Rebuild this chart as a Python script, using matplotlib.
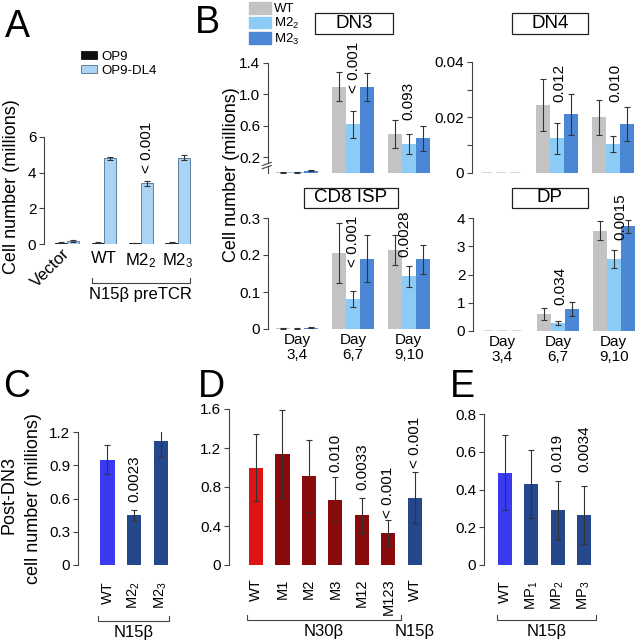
import matplotlib
matplotlib.use("Agg")
import matplotlib.pyplot as plt
import matplotlib.patches as mpatches
import matplotlib.transforms as mtransforms
import numpy as np

plt.rcParams['font.family'] = ['Liberation Sans', 'DejaVu Sans']
plt.rcParams['mathtext.default'] = 'regular'
plt.rcParams['font.size'] = 11

W, H = 641, 643

#=========================== data ===========================#
# Panel A
a_groups = ['Vector', 'WT', 'M2$_2$', 'M2$_3$']
a_op9 = [0.08, 0.07, 0.05, 0.07]
a_op9_err = [0.02, 0.02, 0.02, 0.02]
a_dl4 = [0.15, 4.80, 3.40, 4.85]
a_dl4_err = [0.05, 0.08, 0.15, 0.15]

# Panel B
days = ['Day\n3,4', 'Day\n6,7', 'Day\n9,10']
b_series = ['WT', 'M2$_2$', 'M2$_3$']

dn3_wt, dn3_wt_err = [0.01, 1.10, 0.50], [0.004, 0.19, 0.18]
dn3_m22, dn3_m22_err = [0.01, 0.62, 0.37], [0.004, 0.17, 0.13]
dn3_m23, dn3_m23_err = [0.03, 1.09, 0.44], [0.01, 0.18, 0.16]

dn4_wt, dn4_wt_err = [0, 0.0245, 0.0200], [0, 0.0095, 0.0062]
dn4_m22, dn4_m22_err = [0, 0.0125, 0.0105], [0, 0.0055, 0.0028]
dn4_m23, dn4_m23_err = [0, 0.0211, 0.0176], [0, 0.0075, 0.0061]

cd8_wt, cd8_wt_err = [0.002, 0.205, 0.213], [0.001, 0.082, 0.041]
cd8_m22, cd8_m22_err = [0.001, 0.082, 0.142], [0.0005, 0.022, 0.028]
cd8_m23, cd8_m23_err = [0.004, 0.190, 0.188], [0.002, 0.063, 0.039]

dp_wt, dp_wt_err = [0, 0.60, 3.55], [0, 0.20, 0.33]
dp_m22, dp_m22_err = [0, 0.28, 2.55], [0, 0.08, 0.33]
dp_m23, dp_m23_err = [0, 0.78, 3.70], [0, 0.25, 0.22]

# Panel C
c_labels = ['WT', 'M2$_2$', 'M2$_3$']
c_vals = [0.95, 0.45, 1.12]
c_err = [0.13, 0.05, 0.15]

# Panel D
d_labels = ['WT', 'M1', 'M2', 'M3', 'M12', 'M123', 'WT']
d_vals = [1.00, 1.14, 0.91, 0.67, 0.51, 0.33, 0.69]
d_err = [0.34, 0.45, 0.37, 0.23, 0.18, 0.13, 0.26]

# Panel E
e_labels = ['WT', 'MP$_1$', 'MP$_2$', 'MP$_3$']
e_vals = [0.49, 0.43, 0.29, 0.265]
e_err = [0.20, 0.18, 0.155, 0.155]

#=========================== colours ===========================#
c_op9 = '#111111'
c_dl4 = '#aad4f6'
c_wt_grey = '#c3c3c3'
c_m22 = '#8ccbf6'
c_m23 = '#4c87d6'
c_blue = '#3a3af0'
c_navy = '#25478c'
c_red = '#de1414'
c_dred = '#880a0a'
err_kw = dict(ecolor='#333333', elinewidth=0.8, capsize=2.5, capthick=0.8)

fig = plt.figure(figsize=(W / 100, H / 100), dpi=100)


def add_ax(l, t, r, b):
    ax = fig.add_axes([l / W, 1 - b / H, (r - l) / W, (b - t) / H])
    for s in ['top', 'right', 'bottom']:
        ax.spines[s].set_visible(False)
    ax.spines['left'].set_color('#444444')
    ax.spines['left'].set_linewidth(0.8)
    ax.tick_params(axis='y', length=3.5, width=0.8, color='#444444', pad=2, labelsize=11)
    ax.tick_params(axis='x', length=0, labelsize=11)
    return ax


def bracket(ax, x0, x1, ypx, text, text_x=None):
    trans = mtransforms.blended_transform_factory(ax.transData, fig.transFigure)
    y = 1 - ypx / H
    ax.plot([x0, x0, x1, x1], [y + 5 / H, y, y, y + 5 / H], transform=trans,
            clip_on=False, color='#444444', lw=0.8)
    tx = (x0 + x1) / 2 if text_x is None else text_x
    ax.text(tx, y - 4 / H, text, transform=trans, ha='center', va='top', fontsize=12)


def pval(ax, x, y, s):
    ax.text(x, y, s, rotation=90, ha='center', va='bottom', fontsize=11)


def titlebox(l, t, r, b, s):
    fig.patches.append(mpatches.Rectangle((l / W, 1 - b / H), (r - l) / W, (b - t) / H,
                                          transform=fig.transFigure, fill=False,
                                          edgecolor='#222222', lw=0.9))
    fig.text((l + r) / 2 / W, 1 - (t + b) / 2 / H, s, ha='center', va='center', fontsize=13.5)


def rot_labels(ax, labels, pad):
    ax.set_xticklabels(labels, rotation=90, fontsize=10.5)
    ax.tick_params(axis='x', pad=pad)


#=========================== A ===========================#
axA = add_ax(44, 137, 192, 244)
x = np.arange(len(a_groups))
w = 0.33
axA.bar(x - w / 2, a_op9, w, yerr=a_op9_err, color=c_op9, edgecolor=c_op9, lw=0.6,
        error_kw=err_kw, label='OP9')
axA.bar(x + w / 2, a_dl4, w, yerr=a_dl4_err, color=c_dl4, edgecolor='#4f6f8c', lw=0.6,
        error_kw=err_kw, label='OP9-DL4')
axA.set_xlim(-0.62, 3.39)
axA.set_ylim(0, 6)
axA.set_yticks([0, 2, 4, 6])
axA.set_xticks(x)
axA.set_xticklabels(a_groups, fontsize=12)
axA.tick_params(axis='x', pad=5)
lab0 = axA.get_xticklabels()[0]
lab0.set_rotation(45)
lab0.set_ha('right')
lab0.set_va('center')
lab0.set_rotation_mode('anchor')
pval(axA, 2 + w / 2, 3.98, '< 0.001')
bracket(axA, 1 - w, 3 + w, 283, 'N15β preTCR')
axA.legend(loc='upper left', bbox_to_anchor=(81 / W, 1 - 51 / H), bbox_transform=fig.transFigure,
           frameon=False, fontsize=9.5, handlelength=1.25, handleheight=0.55,
           labelspacing=0.15, handletextpad=0.3, borderpad=0, borderaxespad=0)
fig.text(12 / W, 1 - 187 / H, 'Cell number (millions)', rotation=90, ha='center', va='center',
         fontsize=13)

#=========================== B ===========================#
bw = 0.25
xb = np.arange(len(days))


def bpanel(box, wt, wte, m2, m2e, m3, m3e, ylim, yticks, yticklabels, show_days):
    ax = add_ax(*box)
    for off, v, e, c in [(-bw, wt, wte, c_wt_grey), (0, m2, m2e, c_m22), (bw, m3, m3e, c_m23)]:
        v = np.array(v, dtype=float)
        e = np.array(e, dtype=float)
        nz = v > 0
        ax.bar(xb[nz] + off, v[nz], bw, yerr=e[nz], color=c, error_kw=err_kw)
        if (~nz).any():
            ax.hlines(v[~nz], xb[~nz] + off - bw * 0.38, xb[~nz] + off + bw * 0.38,
                      color='#333333', lw=1.0)
    ax.set_xlim(-0.52, 2.38)
    ax.set_ylim(*ylim)
    ax.set_yticks(yticks)
    ax.set_yticklabels(yticklabels)
    ax.set_xticks(xb)
    if show_days:
        ax.set_xticklabels(days, linespacing=1.05)
        ax.tick_params(axis='x', pad=3)
    else:
        ax.set_xticklabels([])
    return ax


axDN3 = bpanel((268, 63, 430, 173), dn3_wt, dn3_wt_err, dn3_m22, dn3_m22_err, dn3_m23, dn3_m23_err,
               (0, 1.4), [0.2, 0.6, 1.0, 1.4], ['0.2', '0.6', '1.0', '1.4'], False)
axDN4 = bpanel((472, 62, 634, 173), dn4_wt, dn4_wt_err, dn4_m22, dn4_m22_err, dn4_m23, dn4_m23_err,
               (0, 0.04), [0, 0.01, 0.02, 0.03, 0.04], ['0', '', '0.02', '', '0.04'], False)
axCD8 = bpanel((268, 218, 430, 329), cd8_wt, cd8_wt_err, cd8_m22, cd8_m22_err, cd8_m23, cd8_m23_err,
               (0, 0.3), [0, 0.1, 0.2, 0.3], ['0', '0.1', '0.2', '0.3'], True)
axDP = bpanel((473, 218, 635, 331), dp_wt, dp_wt_err, dp_m22, dp_m22_err, dp_m23, dp_m23_err,
              (0, 4), [0, 1, 2, 3, 4], ['0', '1', '2', '3', '4'], True)

# axis break on DN3
axDN3.spines['left'].set_bounds(0.13, 1.4)
tb = mtransforms.blended_transform_factory(axDN3.transAxes, axDN3.transData)
for yb in (0.115, 0.075):
    axDN3.plot([-0.035, 0.02], [yb - 0.02, yb + 0.02], transform=tb, clip_on=False,
               color='#444444', lw=0.8)
axDN3.plot([0, 0], [0, 0.07], transform=tb, clip_on=False, color='#444444', lw=0.8)

pval(axDN3, 1.02, 1.02, '< 0.001')
pval(axDN3, 2.0, 0.675, '0.093')
pval(axDN4, 1.04, 0.0256, '0.012')
pval(axDN4, 2.05, 0.0256, '0.010')
pval(axCD8, 1.0, 0.168, '< 0.001')
pval(axCD8, 1.92, 0.195, '0.0028')
pval(axDP, 1.05, 0.92, '0.034')
pval(axDP, 2.12, 3.22, '0.0015')

titlebox(315, 13, 393, 34, 'DN3')
titlebox(512, 13, 588, 34, 'DN4')
titlebox(304, 188, 398, 208, 'CD8 ISP')
titlebox(512, 188, 588, 208, 'DP')

handles = [mpatches.Patch(color=c) for c in (c_wt_grey, c_m22, c_m23)]
fig.legend(handles, b_series, loc='upper left', bbox_to_anchor=(249 / W, 1 - 2 / H),
           frameon=False, fontsize=9.5, handlelength=1.65, handleheight=1.0,
           labelspacing=0.05, handletextpad=0.25, borderpad=0, borderaxespad=0)
fig.text(231 / W, 1 - 175 / H, 'Cell number (millions)', rotation=90, ha='center', va='center',
         fontsize=13)

#=========================== C ===========================#
axC = add_ax(78, 432, 172, 565)
xc = np.arange(len(c_labels))
axC.bar(xc, c_vals, 0.53, yerr=c_err, color=[c_blue, c_navy, c_navy], error_kw=err_kw)
axC.set_xlim(-1.11, 2.43)
axC.set_ylim(0, 1.2)
axC.set_yticks([0, 0.3, 0.6, 0.9, 1.2])
axC.set_yticklabels(['0', '0.3', '0.6', '0.9', '1.2'])
axC.set_xticks(xc)
rot_labels(axC, c_labels, 12)
pval(axC, 1, 0.57, '0.0023')
bracket(axC, -0.35, 2.3, 621, 'N15β')
fig.text(9 / W, 1 - 495 / H, 'Post-DN3', rotation=90, ha='center', va='center', fontsize=13)
fig.text(34 / W, 1 - 499 / H, 'cell number (millions)', rotation=90, ha='center', va='center',
         fontsize=13)

#=========================== D ===========================#
axD = add_ax(229, 409, 426, 565)
xd = np.arange(len(d_labels))
d_cols = [c_red] + [c_dred] * 5 + [c_navy]
axD.bar(xd, d_vals, 0.53, yerr=d_err, color=d_cols, error_kw=err_kw)
axD.set_xlim(-1.02, 6.42)
axD.set_ylim(0, 1.6)
axD.set_yticks([0, 0.4, 0.8, 1.2, 1.6])
axD.set_yticklabels(['0', '0.4', '0.8', '1.2', '1.6'])
axD.set_xticks(xd)
rot_labels(axD, d_labels, 9.5)
pval(axD, 3, 0.954, '0.010')
pval(axD, 4, 0.77, '0.0033')
pval(axD, 5, 0.48, '< 0.001')
pval(axD, 6, 1.0, '< 0.001')
bracket(axD, -0.34, 5.47, 620, 'N30β')
tD = mtransforms.blended_transform_factory(axD.transData, fig.transFigure)
axD.text(6, 1 - 624 / H, 'N15β', transform=tD, ha='center', va='top', fontsize=12)

#=========================== E ===========================#
axE = add_ax(484, 414, 592, 565)
xe = np.arange(len(e_labels))
axE.bar(xe, e_vals, 0.53, yerr=e_err, color=[c_blue] + [c_navy] * 3, error_kw=err_kw)
axE.set_xlim(-0.8, 3.3)
axE.set_ylim(0, 0.8)
axE.set_yticks([0, 0.2, 0.4, 0.6, 0.8])
axE.set_yticklabels(['0', '0.2', '0.4', '0.6', '0.8'])
axE.set_xticks(xe)
rot_labels(axE, e_labels, 11)
pval(axE, 2, 0.493, '0.019')
pval(axE, 3, 0.493, '0.0034')
bracket(axE, -0.3, 3.47, 620, 'N15β')

#=========================== panel letters ===========================#
for s, px, py in [('A', 5, 37), ('B', 195, 33), ('C', 3, 397), ('D', 198, 397), ('E', 450, 397)]:
    fig.text(px / W, 1 - py / H, s, fontsize=27, ha='left', va='baseline')

plt.savefig('out.png', dpi=100)
